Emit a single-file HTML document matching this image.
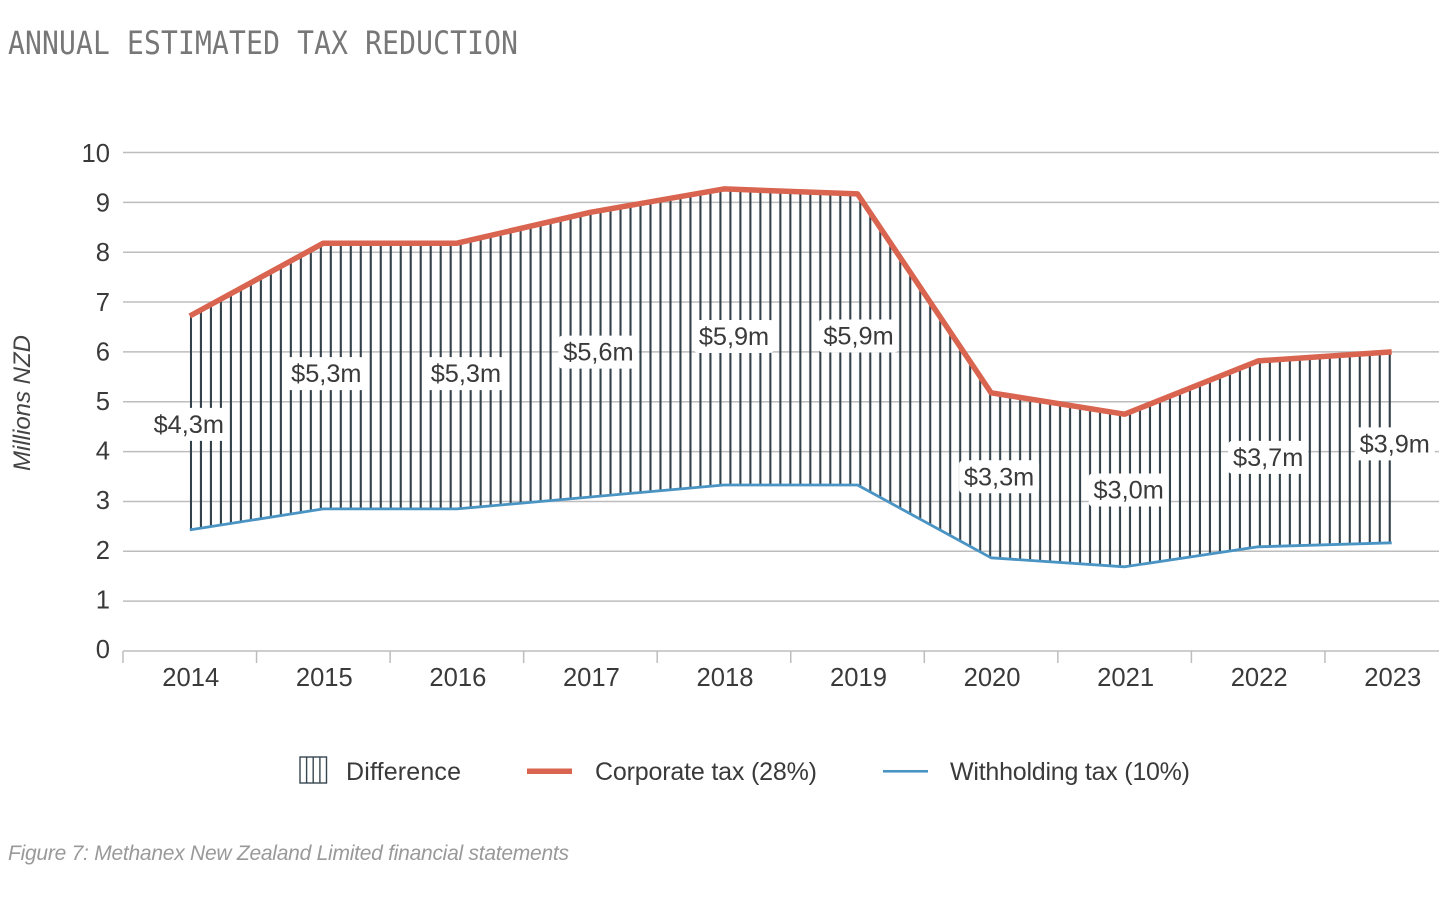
<!DOCTYPE html>
<html lang="en">
<head>
<meta charset="utf-8">
<title>Annual estimated tax reduction</title>
<style>
  html, body { margin: 0; padding: 0; background: #fff; }
  body { width: 1456px; height: 897px; overflow: hidden; }
  svg { display: block; font-family: "Liberation Sans", sans-serif; }
</style>
</head>
<body>
<svg id="chart" xmlns="http://www.w3.org/2000/svg" width="1456" height="897" viewBox="0 0 1456 897">
  <defs>
    <pattern id="hatch" patternUnits="userSpaceOnUse" x="186" y="0" width="9.99" height="20">
      <rect x="3.9" y="0" width="2.1" height="20" fill="#33424a"></rect>
    </pattern>
  </defs>
  <rect x="0" y="0" width="1456" height="897" fill="#ffffff"></rect>
  <text transform="translate(8,54) scale(1,1.15)" x="0" y="0" font-family="'DejaVu Sans Mono', monospace" font-size="28" fill="#777777" textLength="510" lengthAdjust="spacing">ANNUAL ESTIMATED TAX REDUCTION</text>
  <g id="grid"></g>
  <g id="yticks"></g>
  <g id="xticks"></g>
  <text transform="translate(30,403) rotate(-90)" text-anchor="middle" font-size="24" font-style="italic" fill="#444444">Millions NZD</text>
  <g id="marks"></g>
  <g id="labels"></g>

  <g>
    <g>
      <g fill="none" stroke="#37474f" stroke-width="1.4">
        <rect x="300" y="757" width="26.5" height="26"></rect>
        <path d="M306.6 757V783M313.2 757V783M319.9 757V783"></path>
      </g>
      <text x="346" y="780" font-size="25" fill="#3a3a3a" textLength="115">Difference</text>
    </g>
    <g>
      <rect x="527" y="768.5" width="45" height="5.5" fill="#d9644f"></rect>
      <text x="595" y="780" font-size="25" fill="#3a3a3a" textLength="222">Corporate tax (28%)</text>
    </g>
    <g>
      <rect x="883" y="770" width="45" height="2.6" fill="#4a94c4"></rect>
      <text x="950" y="780" font-size="25" fill="#3a3a3a" textLength="240">Withholding tax (10%)</text>
    </g>
  </g>
  <text x="8" y="860" font-size="21" font-style="italic" fill="#999999" textLength="561">Figure 7: Methanex New Zealand Limited financial statements</text>
</svg>
<script>
const years = ['2014','2015','2016','2017','2018','2019','2020','2021','2022','2023'];
const corporateTax = [6.72, 8.18, 8.18, 8.80, 9.27, 9.17, 5.18, 4.75, 5.82, 6.00];
const withholdingTax = [2.43, 2.85, 2.85, 3.09, 3.33, 3.33, 1.87, 1.69, 2.09, 2.17];
const differenceLabels = ['$4,3m','$5,3m','$5,3m','$5,6m','$5,9m','$5,9m','$3,3m','$3,0m','$3,7m','$3,9m'];
const yTicks = [0, 1, 2, 3, 4, 5, 6, 7, 8, 9, 10];

const NS = 'http://www.w3.org/2000/svg';
const yZero = 651, yUnit = 49.85;
const xStart = 123, xBand = 133.55, gridEnd = 1439;
const tickLabelZero = 649, tickLabelUnit = 49.6;
const labelNudge = [-1, 3, 9, 8, 10, 1, 8, 4, 10, 3];
const labelNudgeY = [1, -3, -3, -3, -1, -4, 1, -1, 3, -4];

function xScale(i) { return xStart + xBand * (i + 0.5); }
function yScale(v) { return yZero - v * yUnit; }
function make(tag, attrs, parent) {
  const el = document.createElementNS(NS, tag);
  for (const k in attrs) el.setAttribute(k, attrs[k]);
  parent.appendChild(el);
  return el;
}
function pointsOf(values) {
  return values.map(function (v, i) { return xScale(i).toFixed(1) + ',' + yScale(v).toFixed(1); });
}

const gridG = document.getElementById('grid');
const yG = document.getElementById('yticks');
yTicks.forEach(function (t) {
  if (t > 0) {
    const line = make('line', { x1: xStart, x2: gridEnd, y1: yScale(t), y2: yScale(t), stroke: '#bdbdbd', 'stroke-width': 1.5 }, gridG);
    
    
  }
  const label = make('text', { x: 110, y: tickLabelZero - t * tickLabelUnit + 9, 'text-anchor': 'end', 'font-size': 25.6, fill: '#3a3a3a' }, yG);
  label.textContent = String(t);
  
  
});

const xG = document.getElementById('xticks');
const axisLine = make('line', { x1: xStart, x2: gridEnd, y1: yZero, y2: yZero, stroke: '#bdbdbd', 'stroke-width': 1.5 }, xG);


years.forEach(function (year, i) {
  const tick = make('line', { x1: xStart + xBand * i, x2: xStart + xBand * i, y1: yZero, y2: yZero + 12, stroke: '#bdbdbd', 'stroke-width': 1.5 }, xG);
  
  
  const label = make('text', { x: xScale(i) + 1, y: 686, 'text-anchor': 'middle', 'font-size': 25.6, fill: '#3a3a3a' }, xG);
  label.textContent = year;
  
  
});

const marks = document.getElementById('marks');
const areaPoints = pointsOf(corporateTax).concat(pointsOf(withholdingTax).reverse()).join(' ');
const area = make('polygon', { points: areaPoints, fill: 'url(#hatch)' }, marks);


const blue = make('polyline', { points: pointsOf(withholdingTax).join(' '), fill: 'none', stroke: '#4a94c4', 'stroke-width': 2.8, 'stroke-linejoin': 'round' }, marks);


const red = make('polyline', { points: pointsOf(corporateTax).join(' '), fill: 'none', stroke: '#d9644f', 'stroke-width': 5.5, 'stroke-linejoin': 'round' }, marks);



const labelG = document.getElementById('labels');
differenceLabels.forEach(function (text, i) {
  const cx = xScale(i) + labelNudge[i];
  const cy = yScale((corporateTax[i] + withholdingTax[i]) / 2) + labelNudgeY[i];
  const bg = make('rect', { x: cx - 40, y: cy - 16, width: 80, height: 33, rx: 4, fill: '#ffffff' }, labelG);
  
  
  const label = make('text', { x: cx, y: cy + 9, 'text-anchor': 'middle', 'font-size': 25.3, fill: '#3a3a3a' }, labelG);
  label.textContent = text;
  
  
});
</script>
</body>
</html>
